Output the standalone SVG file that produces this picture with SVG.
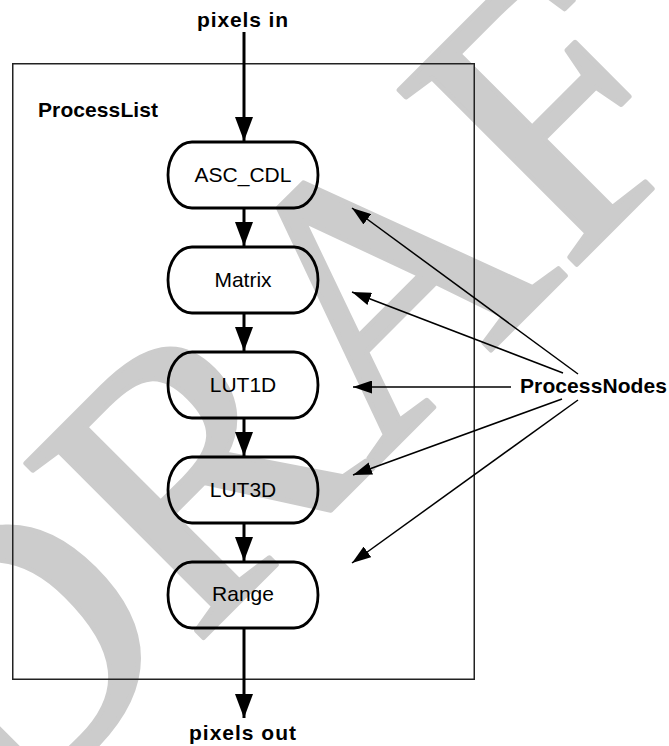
<svg xmlns="http://www.w3.org/2000/svg" width="669" height="746" viewBox="0 0 669 746">
  <style>
    .wm { font-family: "Liberation Serif", "Times New Roman", serif; font-size: 380px; fill: #cccccc; stroke: #cccccc; stroke-width: 5; stroke-linejoin: round; }
    .node rect { fill: none; stroke: #000; stroke-width: 2.8; }
    .lbl { font-family: "Liberation Sans", Arial, sans-serif; font-size: 21px; fill: #000; text-anchor: middle; }
    .bold { font-family: "Liberation Sans", Arial, sans-serif; font-size: 21px; font-weight: bold; fill: #000; }
    .flow { stroke: #000; stroke-width: 3; fill: none; marker-end: url(#bigHead); }
    .ptr { stroke: #000; stroke-width: 1.5; fill: none; marker-end: url(#smallHead); }
  </style>
  <defs>
    <marker id="bigHead" markerUnits="userSpaceOnUse" markerWidth="24" markerHeight="18" refX="24" refY="9" orient="auto">
      <path d="M0,0 L24,9 L0,18 Z" fill="#000"/>
    </marker>
    <marker id="smallHead" markerUnits="userSpaceOnUse" markerWidth="19" markerHeight="13" refX="19" refY="6.5" orient="auto">
      <path d="M0,0 L19,6.5 L0,13 Z" fill="#000"/>
    </marker>
  </defs>
  <rect width="669" height="746" fill="#fff"/>
  <g id="watermark">
    <text class="wm" transform="translate(0,841) rotate(-45)" x="0" y="0">DRAFT</text>
  </g>
  <g id="processList">
    <rect x="12.75" y="63.75" width="461.5" height="615.5" fill="none" stroke="#222" stroke-width="1.5"/>
    <text class="bold" x="38" y="117" textLength="120" lengthAdjust="spacing">ProcessList</text>
  </g>
  <g id="connectors">
    <line class="flow" x1="244" y1="32" x2="244" y2="141"/>
    <line class="flow" x1="244" y1="208" x2="244" y2="246"/>
    <line class="flow" x1="244" y1="313" x2="244" y2="351"/>
    <line class="flow" x1="244" y1="418" x2="244" y2="456"/>
    <line class="flow" x1="244" y1="523" x2="244" y2="561"/>
    <line class="flow" x1="244" y1="628" x2="244" y2="718"/>
    <line class="ptr" x1="578" y1="374" x2="352" y2="208"/>
    <line class="ptr" x1="563" y1="373" x2="352" y2="292"/>
    <line class="ptr" x1="511" y1="387" x2="353" y2="387"/>
    <line class="ptr" x1="562" y1="399" x2="353" y2="475"/>
    <line class="ptr" x1="578" y1="400" x2="352" y2="563"/>
  </g>
  <g id="pixelsIn">
    <text class="bold" x="197" y="27" textLength="91" lengthAdjust="spacing">pixels in</text>
  </g>
  <g id="pixelsOut">
    <text class="bold" x="189" y="740" textLength="107" lengthAdjust="spacing">pixels out</text>
  </g>
  <g id="node-asc-cdl" class="node">
    <rect x="168" y="142" width="150" height="66" rx="24" ry="33"/>
    <text class="lbl" x="243" y="182">ASC_CDL</text>
  </g>
  <g id="node-matrix" class="node">
    <rect x="168" y="247" width="150" height="66" rx="24" ry="33"/>
    <text class="lbl" x="243" y="287">Matrix</text>
  </g>
  <g id="node-lut1d" class="node">
    <rect x="168" y="352" width="150" height="66" rx="24" ry="33"/>
    <text class="lbl" x="243" y="392">LUT1D</text>
  </g>
  <g id="node-lut3d" class="node">
    <rect x="168" y="457" width="150" height="66" rx="24" ry="33"/>
    <text class="lbl" x="243" y="497">LUT3D</text>
  </g>
  <g id="node-range" class="node">
    <rect x="168" y="562" width="150" height="66" rx="24" ry="33"/>
    <text class="lbl" x="243" y="601">Range</text>
  </g>
  <g id="processNodes">
    <text class="bold" x="520" y="393" textLength="147" lengthAdjust="spacing">ProcessNodes</text>
  </g>
</svg>
